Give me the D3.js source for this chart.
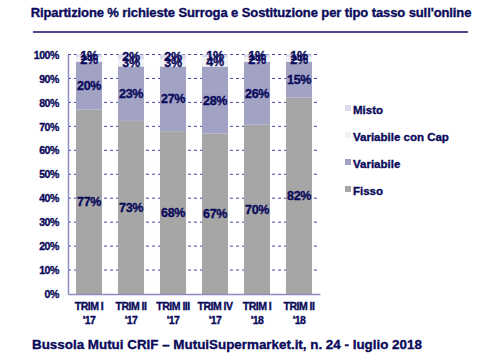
<!DOCTYPE html>
<html><head><meta charset="utf-8">
<script src="https://cdn.jsdelivr.net/npm/d3@7"></script>
<style>
html,body{margin:0;padding:0;background:#fff;}
text{font-family:Arial,"Liberation Sans",sans-serif;font-weight:bold;fill:#0a0a5a;stroke:#0a0a5a;stroke-width:0.35px;}
</style></head>
<body><svg id="c" width="500" height="360"></svg>
<script>
const categories = ["TRIM I|'17","TRIM II|'17","TRIM III|'17","TRIM IV|'17","TRIM I|'18","TRIM II|'18"];
const fisso = [77,73,68,67,70,82];
const variabile = [20,23,27,28,26,15];
const variabileCap = [2,3,3,4,2,2];
const misto = [1,2,2,1,1,1];
const seriesNames = ["Fisso","Variabile","Variabile con Cap","Misto"];
const seriesColors = ["#a6a6a6","#a2a2c4","#f2f2f6","#dcdcec"];
const yTicks = [0,0.1,0.2,0.3,0.4,0.5,0.6,0.7,0.8,0.9,1];

const svg = d3.select("#c");
const m={l:68};
const x = d3.scaleBand().domain(categories).range([m.l,320]).paddingInner(0.38).paddingOuter(0.19);
const y = d3.scaleLinear().domain([0,1]).range([294,54.5]);

// title
svg.append("text").attr("x",251).attr("y",17).attr("text-anchor","middle")
  .style("font-size","13px").style("letter-spacing","-0.1px")
  .text("Ripartizione % richieste Surroga e Sostituzione per tipo tasso sull'online");
svg.append("line").attr("x1",33).attr("x2",468).attr("y1",32).attr("y2",32)
  .attr("stroke","#10106a").attr("stroke-width",1.5);

// grid
svg.append("g").selectAll("line").data(yTicks.filter(d=>d>0)).join("line")
  .attr("x1",m.l).attr("x2",320).attr("y1",d=>y(d)).attr("y2",d=>y(d))
  .attr("stroke","#4848a0").attr("stroke-width",1).attr("stroke-dasharray","3,3");

// data table
const table = categories.map((c,i)=>({cat:c,"Fisso":fisso[i],"Variabile":variabile[i],"Variabile con Cap":variabileCap[i],"Misto":misto[i]}));
const stack = d3.stack().keys(seriesNames).offset(d3.stackOffsetExpand);
const series = stack(table);

const g = svg.append("g");
series.forEach((s,si)=>{
  g.selectAll(null).data(s).join("rect")
   .attr("x",d=>x(d.data.cat)).attr("width",x.bandwidth())
   .attr("y",d=>y(d[1])).attr("height",d=>y(d[0])-y(d[1]))
   .attr("fill",seriesColors[si]);
});
// labels
series.forEach((s,si)=>{
  g.selectAll(null).data(s).join("text")
   .attr("x",d=>x(d.data.cat)+x.bandwidth()/2)
   .attr("y",d=>(y(d[0])+y(d[1]))/2+4.5)
   .attr("text-anchor","middle").style("font-size","12.5px").style("letter-spacing","-0.4px")
   .text(d=>d.data[s.key]+"%");
});

// axes
const yAxis = d3.axisLeft(y).tickValues(yTicks).tickFormat(d3.format(".0%")).tickSize(0).tickPadding(9);
const ya = svg.append("g").attr("transform",`translate(${m.l},0)`).call(yAxis);
ya.select(".domain").attr("stroke","#8c8cc4").attr("stroke-width",1.5);
ya.selectAll("text").style("font-size","10.5px").style("letter-spacing","-0.4px").attr("dy","0.35em").attr("fill","#0a0a5a");

const xAxis = d3.axisBottom(x).tickSize(0).tickFormat(()=> "");
const xa = svg.append("g").attr("transform",`translate(0,294)`).call(xAxis);
xa.select(".domain").attr("stroke","#8c8cc4").attr("stroke-width",1.5);
xa.selectAll(".tick").each(function(d){
  const parts=d.split("|");
  const t=d3.select(this);
  t.select("text").remove();
  parts.forEach((p,i)=>{
    t.append("text").attr("x",0).attr("y",16+i*14).attr("text-anchor","middle")
     .style("font-size","10.5px").style("letter-spacing","-0.5px").text(p);
  });
});

// legend
const legOrder = ["Misto","Variabile con Cap","Variabile","Fisso"];
const lg = svg.append("g");
legOrder.forEach((n,i)=>{
  const yy = 110+i*27;
  lg.append("rect").attr("x",345).attr("y",yy-5).attr("width",6).attr("height",6)
    .attr("fill",seriesColors[seriesNames.indexOf(n)]);
  lg.append("text").attr("x",353).attr("y",yy+4).style("font-size","11.5px").text(n);
});

// footer
svg.append("text").attr("x",32).attr("y",349).style("font-size","13.4px")
  .text("Bussola Mutui CRIF \u2013 MutuiSupermarket.it, n. 24 - luglio 2018");
</script></body></html>
